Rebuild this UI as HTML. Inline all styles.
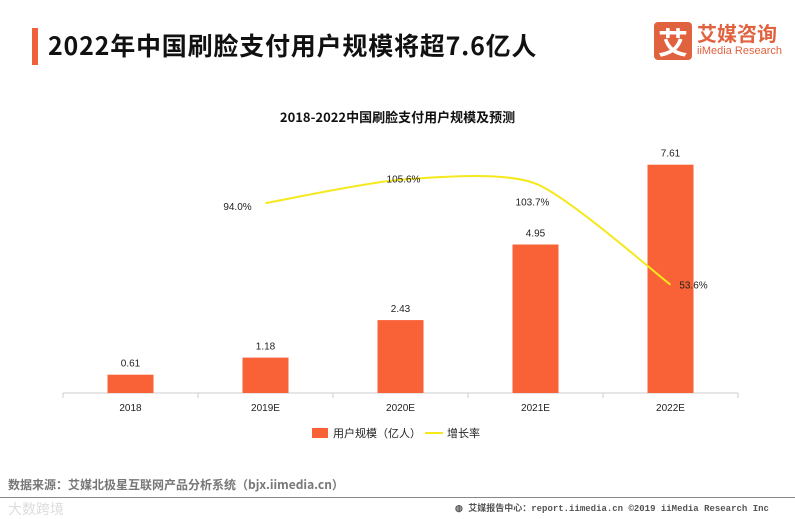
<!DOCTYPE html>
<html><head><meta charset="utf-8"><style>
body{margin:0;background:#fff;width:795px;height:517px;overflow:hidden;font-family:"Liberation Sans","Noto Sans CJK SC",sans-serif;position:relative}
.abs{position:absolute}
</style></head><body>
<div class="abs" style="left:32px;top:28px;width:6px;height:37px;background:#f0603a"></div>
<div class="abs" style="left:48px;top:27px;font-size:25px;font-weight:bold;color:#111;font-family:'Noto Sans CJK SC',sans-serif;line-height:36px;letter-spacing:0.8px">2022年中国刷脸支付用户规模将超7.6亿人</div>
<div class="abs" style="left:654px;top:22px;width:130px;height:40px">
 <div class="abs" style="left:0;top:0;width:38px;height:38px;background:#e0623f;border-radius:4px;color:#fff;font-size:30px;font-weight:bold;text-align:center;line-height:38px;font-family:'Noto Sans CJK SC',sans-serif">艾</div>
 <div class="abs" style="left:43px;top:-2px;color:#e0623f;font-size:20px;font-weight:bold;font-family:'Noto Sans CJK SC',sans-serif;line-height:26px;white-space:nowrap">艾媒咨询</div>
 <div class="abs" style="left:43px;top:23px;color:#e0623f;font-size:11px;white-space:nowrap">iiMedia Research</div>
</div>
<div class="abs" style="left:0;width:795px;top:107px;text-align:center;font-size:13px;font-weight:bold;color:#111;font-family:'Noto Sans CJK SC',sans-serif">2018-2022中国刷脸支付用户规模及预测</div>
<svg class="abs" style="left:0;top:0" width="795" height="517" id="chart"></svg>
<div class="abs" style="left:8px;top:476px;font-size:12px;font-weight:bold;color:#777;font-family:'Noto Sans CJK SC',sans-serif;white-space:nowrap">数据来源：艾媒北极星互联网产品分析系统（bjx.iimedia.cn）</div>
<div class="abs" style="left:0;top:497px;width:795px;height:1px;background:#888"></div>
<div class="abs" style="left:455px;top:501px;font-size:9px;font-weight:bold;color:#555;font-family:'Liberation Mono','Noto Sans CJK SC',monospace;white-space:nowrap">◍ 艾媒报告中心：report.iimedia.cn  ©2019  iiMedia Research  Inc</div>
<div class="abs" style="left:8px;top:499px;font-size:14px;color:#ddd;font-family:'Noto Sans CJK SC',sans-serif">大数跨境</div>
<script>
const categories=["2018","2019E","2020E","2021E","2022E"];
const userScale=[0.61,1.18,2.43,4.95,7.61];
const growthRate=[null,94.0,105.6,103.7,53.6];
const valueLabels=["0.61","1.18","2.43","4.95","7.61"];
const rateLabels=["","94.0%","105.6%","103.7%","53.6%"];
const svg=document.getElementById('chart');
const NS='http://www.w3.org/2000/svg';
const x0=63,band=135,base=393;
const xc=i=>x0+band*(i+0.5);
const yBar=v=>base-v*30;
const yLine=v=>base-v*2.02;
function mk(t,a){const e=document.createElementNS(NS,t);for(const k in a)e.setAttribute(k,a[k]);svg.appendChild(e);return e;}
let ax=mk('line',{x1:x0,x2:x0+band*5,y1:base,y2:base,stroke:'#ccc'});


for(let i=0;i<=5;i++){let t=mk('line',{x1:x0+band*i,x2:x0+band*i,y1:base,y2:base+5,stroke:'#ccc'});

}
categories.forEach((c,i)=>{
 let r=mk('rect',{x:xc(i)-23,y:yBar(userScale[i]),width:46,height:base-yBar(userScale[i]),fill:'#f86236'});
 
 
 let t=mk('text',{x:xc(i),y:yBar(userScale[i])-8,'text-anchor':'middle','font-size':10,fill:'#222','font-family':'Liberation Sans'});t.textContent=valueLabels[i];
 
 
 let l=mk('text',{x:xc(i),y:411,'text-anchor':'middle','font-size':10,fill:'#222','font-family':'Liberation Sans'});l.textContent=c;
 
 
});
const pts=[];growthRate.forEach((v,i)=>{if(v!=null)pts.push([xc(i),yLine(v)]);});
let d='M'+pts[0][0]+','+pts[0][1];
const k=0.12;
for(let i=0;i<pts.length-1;i++){const p0=pts[Math.max(0,i-1)],p1=pts[i],p2=pts[i+1],p3=pts[Math.min(pts.length-1,i+2)];
 d+=` C${p1[0]+(p2[0]-p0[0])*k},${p1[1]+(p2[1]-p0[1])*k} ${p2[0]-(p3[0]-p1[0])*k},${p2[1]-(p3[1]-p1[1])*k} ${p2[0]},${p2[1]}`;}
let ln=mk('path',{d:d,fill:'none',stroke:'#f5e81c','stroke-width':2});


const offs=[[0,0],[-28,7],[3,3],[-3,22],[23,4]];
growthRate.forEach((v,i)=>{if(v==null)return;
 let t=mk('text',{x:xc(i)+offs[i][0],y:yLine(v)+offs[i][1],'text-anchor':'middle','font-size':10,fill:'#222','font-family':'Liberation Sans'});t.textContent=rateLabels[i];
 
 });
let lg=mk('rect',{x:312,y:428,width:16,height:10,fill:'#f86236'});


let lt=mk('text',{x:333,y:437,'font-size':11,fill:'#222','font-family':'Noto Sans CJK SC'});lt.textContent='用户规模（亿人）';


let ll=mk('line',{x1:425,x2:443,y1:433,y2:433,stroke:'#f5e81c','stroke-width':2});


let lt2=mk('text',{x:447,y:437,'font-size':11,fill:'#222','font-family':'Noto Sans CJK SC'});lt2.textContent='增长率';


</script>
</body></html>
